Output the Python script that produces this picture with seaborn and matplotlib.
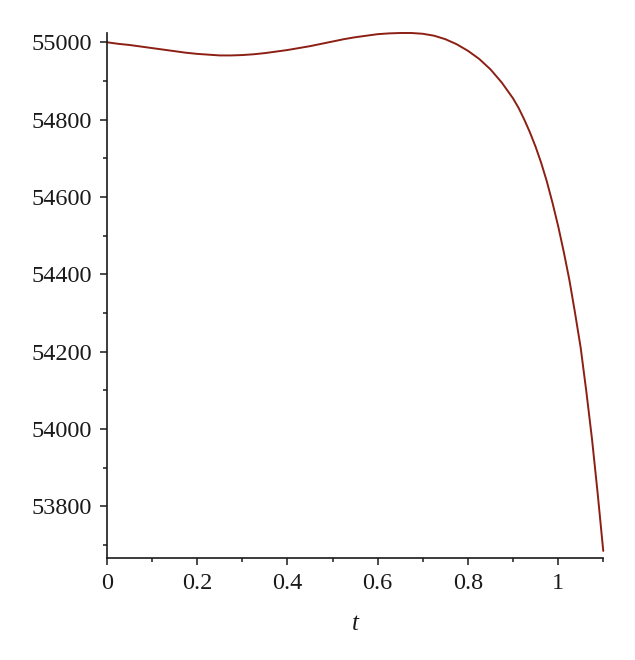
import numpy as np
import pandas as pd
import matplotlib
matplotlib.use("Agg")
import matplotlib.pyplot as plt
from matplotlib.ticker import FixedLocator
import seaborn as sns

# Values
t_values = [0.0, 0.025, 0.05, 0.075, 0.1, 0.125, 0.15, 0.175, 0.2, 0.225,
            0.25, 0.275, 0.3, 0.325, 0.35, 0.375, 0.4, 0.425, 0.45, 0.475,
            0.5, 0.525, 0.55, 0.575, 0.6, 0.625, 0.65, 0.675, 0.7, 0.725,
            0.75, 0.775, 0.8, 0.825, 0.85, 0.875, 0.9, 0.9125, 0.925, 0.9375,
            0.95, 0.9625, 0.975, 0.9875, 1.0, 1.0125, 1.025, 1.0375, 1.05,
            1.0625, 1.075, 1.0875, 1.1]
y_values = [55000, 54996, 54993, 54989, 54985, 54981, 54977, 54973, 54970, 54968,
            54966, 54966, 54967, 54969, 54972, 54976, 54980, 54985, 54990, 54996,
            55002, 55008, 55013, 55017, 55021, 55023, 55024, 55024, 55022, 55017,
            55008, 54995, 54978, 54957, 54930, 54896, 54855, 54830, 54800, 54767,
            54730, 54688, 54640, 54585, 54525, 54458, 54385, 54300, 54210,
            54097, 53975, 53835, 53685]
x_ticks = [0, 0.2, 0.4, 0.6, 0.8, 1]
x_tick_labels = ["0", "0.2", "0.4", "0.6", "0.8", "1"]
y_ticks = [53800, 54000, 54200, 54400, 54600, 54800, 55000]

df = pd.DataFrame({"t": t_values, "value": y_values})

sns.set_theme(style="ticks")
plt.rcParams["font.family"] = ["Liberation Serif", "DejaVu Serif"]

fig = plt.figure(figsize=(6.35, 6.6), dpi=100)
ax = fig.add_axes([0.1685, 0.1553, 0.7815, 0.7947])

sns.lineplot(data=df, x="t", y="value", ax=ax, color="#8c1f14", linewidth=1.4)
for l in ax.lines:
    l.set_clip_on(False)
    l.set_solid_joinstyle("round")

ax.set_xlim(0, 1.1)
ax.set_ylim(53668, 55024)
ax.set_xticks(x_ticks)
ax.set_xticklabels(x_tick_labels)
ax.set_yticks(y_ticks)
ax.set_yticklabels([str(v) for v in y_ticks])
ax.xaxis.set_minor_locator(FixedLocator([0.1, 0.3, 0.5, 0.7, 0.9, 1.1]))
ax.yaxis.set_minor_locator(FixedLocator([53700, 53900, 54100, 54300, 54500, 54700, 54900]))

for s in ["top", "right"]:
    ax.spines[s].set_visible(False)
for s in ["left", "bottom"]:
    ax.spines[s].set_linewidth(1.2)
    ax.spines[s].set_color("#1a1a1a")

ax.tick_params(axis="both", which="major", direction="out", length=5, width=1.1,
               labelsize=17.5, colors="#1a1a1a", pad=6)
ax.tick_params(axis="both", which="minor", direction="out", length=3, width=1.1,
               colors="#1a1a1a")

ax.set_xlabel("t", fontsize=18, fontstyle="italic", labelpad=14, color="#1a1a1a")
ax.set_ylabel("")

fig.savefig("out.png", dpi=100, facecolor="white")
